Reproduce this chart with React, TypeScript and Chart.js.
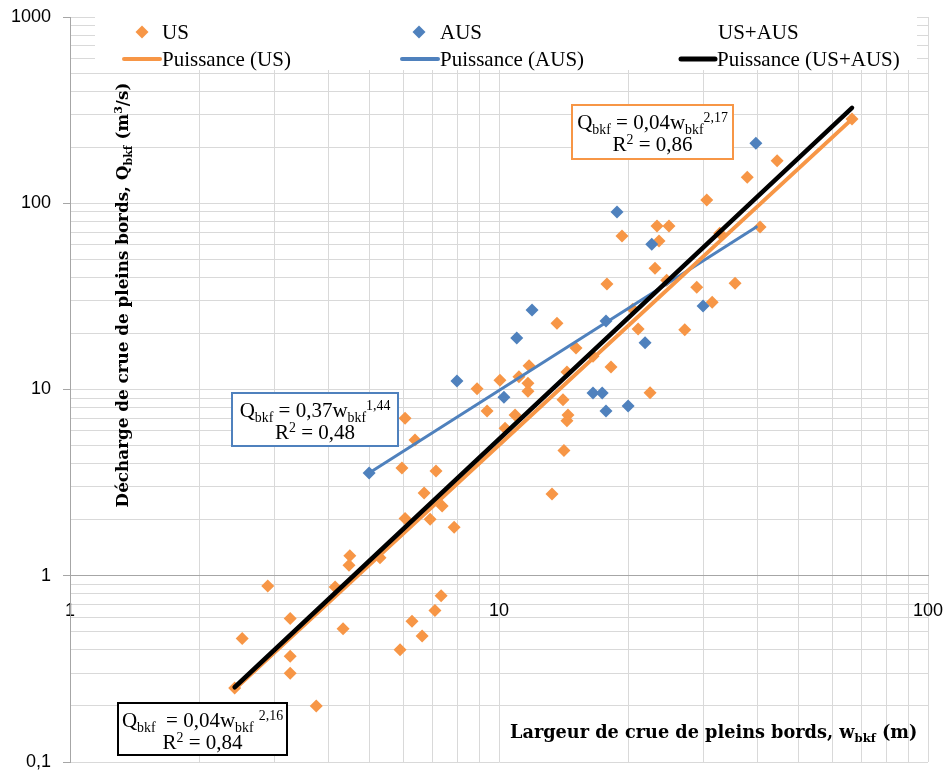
import { useEffect, useRef } from 'react';
import { Chart, registerables } from 'chart.js';

Chart.register(...registerables);

// ---- data ----
const usWidth = [2.42, 2.52, 2.89, 3.26, 3.26, 3.26, 3.75, 4.15, 4.33, 4.49, 4.47, 5.28, 5.88, 6.27, 6.62, 7.09, 7.33, 6.04, 6.37, 5.94, 7.13, 6.69, 7.37, 6.04, 6.91, 7.86, 8.89, 9.38, 10.05, 10.33, 10.9, 11.13, 11.68, 11.68, 11.75, 13.65, 15.12, 16.56, 14.4, 14.1, 14.48, 14.4, 14.17, 13.29, 18.24, 21.1, 20.5, 22.5, 30.5, 23.35, 24.9, 19.35, 23.6, 40.6, 23.1, 32.7, 17.85, 24.6, 28.9, 35.5, 31.4, 27.1, 37.9, 44.5, 66.5];
const usDischarge = [0.25, 0.46, 0.88, 0.59, 0.37, 0.3, 0.2, 0.87, 0.52, 1.28, 1.14, 1.25, 0.4, 0.57, 0.475, 0.65, 0.78, 7.0, 5.36, 3.79, 3.65, 2.78, 2.37, 2.03, 2.01, 1.82, 10.1, 7.67, 11.2, 6.2, 7.3, 11.7, 10.8, 9.8, 13.4, 22.7, 16.7, 15.1, 12.4, 8.8, 7.3, 6.8, 4.7, 2.75, 13.2, 21.1, 27, 9.6, 104, 75.5, 75.5, 66.7, 62.7, 74.6, 44.8, 69, 36.9, 38.6, 35.4, 37.2, 29.4, 20.9, 138, 169, 283];

const ausWidth = [4.98, 7.98, 10.27, 11.0, 11.94, 16.56, 17.4, 17.76, 20.0, 17.76, 21.9, 18.84, 22.7, 29.9, 39.7];
const ausDischarge = [3.56, 11.1, 9.1, 18.9, 26.7, 9.58, 9.58, 7.67, 8.15, 23.3, 17.8, 89.7, 60.3, 28.1, 210];

const usFitWidth = [2.42, 66.5];
const usFitDischarge = [0.246, 283];
const ausFitWidth = [4.98, 39.8];
const ausFitDischarge = [3.56, 74.6];
const allFitWidth = [2.42, 66.5];
const allFitDischarge = [0.252, 325];

const xTickLabels = ['1', '10', '100'];
const yTickLabels = ['0,1', '1', '10', '100', '1000'];

const legendMarkerLabels = ['US', 'AUS', 'US+AUS'];
const legendLineLabels = ['Puissance (US)', 'Puissance (AUS)', 'Puissance (US+AUS)'];

const xTitle = [{ t: 'Largeur de crue de pleins bords, w' }, { t: 'bkf', k: 'sub' }, { t: ' (m)' }];
const yTitle = [{ t: 'Décharge de crue de pleins bords, Q' }, { t: 'bkf', k: 'sub' }, { t: ' (m' }, { t: '3', k: 'sup' }, { t: '/s)' }];

const usEquation = [[{ t: 'Q' }, { t: 'bkf', k: 'sub' }, { t: ' = 0,04w' }, { t: 'bkf', k: 'sub' }, { t: '2,17', k: 'sup' }], [{ t: 'R' }, { t: '2', k: 'sup' }, { t: ' = 0,86' }]];
const ausEquation = [[{ t: 'Q' }, { t: 'bkf', k: 'sub' }, { t: ' = 0,37w' }, { t: 'bkf', k: 'sub' }, { t: '1,44', k: 'sup' }], [{ t: 'R' }, { t: '2', k: 'sup' }, { t: ' = 0,48' }]];
const allEquation = [[{ t: 'Q' }, { t: 'bkf', k: 'sub' }, { t: '  = 0,04w' }, { t: 'bkf', k: 'sub' }, { t: ' ' }, { t: '2,16', k: 'sup' }], [{ t: 'R' }, { t: '2', k: 'sup' }, { t: ' = 0,84' }]];

const ORANGE = '#F79646';
const BLUE = '#4F81BD';
const BLACK = '#000000';
const GRID = '#d9d9d9';
const AXIS = '#a6a6a6';

type Seg = { t: string; k?: string };

function gridValues(lo: number, hi: number) {
  const out: number[] = [];
  for (let e = lo; e < hi; e++) {
    for (let m = 1; m < 10; m++) out.push(m * Math.pow(10, e));
  }
  out.push(Math.pow(10, hi));
  return out;
}

function isPow10(v: number) {
  const l = Math.log10(v);
  return Math.abs(l - Math.round(l)) < 1e-9;
}

function drawRich(ctx: CanvasRenderingContext2D, segs: Seg[], x: number, y: number, size: number, family: string, weight: string, align: 'left' | 'center') {
  const small = size * 0.66;
  const fontFor = (s: Seg) => `${weight} ${s.k ? small : size}px ${family}`;
  let total = 0;
  const widths = segs.map((s) => {
    ctx.font = fontFor(s);
    const w = ctx.measureText(s.t).width;
    total += w;
    return w;
  });
  let cx = align === 'center' ? x - total / 2 : x;
  ctx.textBaseline = 'alphabetic';
  ctx.textAlign = 'left';
  segs.forEach((s, i) => {
    ctx.font = fontFor(s);
    const dy = s.k === 'sub' ? size * 0.22 : s.k === 'sup' ? -size * 0.33 : 0;
    ctx.fillText(s.t, cx, y + dy);
    cx += widths[i];
  });
  return total;
}

function diamond(ctx: CanvasRenderingContext2D, cx: number, cy: number, r: number, color: string) {
  ctx.beginPath();
  ctx.moveTo(cx - r, cy);
  ctx.lineTo(cx, cy - r);
  ctx.lineTo(cx + r, cy);
  ctx.lineTo(cx, cy + r);
  ctx.closePath();
  ctx.fillStyle = color;
  ctx.fill();
}

const SERIF = '"Liberation Serif", "DejaVu Serif", serif';
const SERIF_B = '"DejaVu Serif", "Liberation Serif", serif';

const overlayPlugin = {
  id: 'overlay',
  afterDraw(chart: any) {
    const ctx: CanvasRenderingContext2D = chart.ctx;
    ctx.save();
    // legend area
    ctx.fillStyle = '#ffffff';
    ctx.fillRect(95, 12, 822, 58);
    const markerX = [142, 419, -1];
    const textX = [162, 440, 718];
    const markerColors = [ORANGE, BLUE, BLACK];
    legendMarkerLabels.forEach((lab, i) => {
      if (markerX[i] > 0) diamond(ctx, markerX[i], 32, 6.5, markerColors[i]);
      ctx.fillStyle = '#000';
      ctx.font = `21px ${SERIF}`;
      ctx.textAlign = 'left';
      ctx.textBaseline = 'middle';
      ctx.fillText(lab, textX[i], 33);
    });
    const lineStart = [124, 402, 681];
    const lineText = [162, 440, 717];
    const lineWidths = [4, 4, 5];
    legendLineLabels.forEach((lab, i) => {
      ctx.beginPath();
      ctx.strokeStyle = markerColors[i];
      ctx.lineWidth = lineWidths[i];
      ctx.lineCap = 'round';
      ctx.moveTo(lineStart[i], 59);
      ctx.lineTo(lineText[i] - 2, 59);
      ctx.stroke();
      ctx.fillStyle = '#000';
      ctx.font = `21px ${SERIF}`;
      ctx.textAlign = 'left';
      ctx.textBaseline = 'middle';
      ctx.fillText(lab, lineText[i], 60);
    });

    // equation boxes
    const boxes = [
      { x: 572, y: 105, w: 161, h: 54, c: ORANGE, eq: usEquation },
      { x: 232, y: 393, w: 166, h: 53, c: BLUE, eq: ausEquation },
      { x: 118, y: 703, w: 169, h: 52, c: BLACK, eq: allEquation },
    ];
    boxes.forEach((b) => {
      ctx.fillStyle = '#fff';
      ctx.fillRect(b.x, b.y, b.w, b.h);
      ctx.strokeStyle = b.c;
      ctx.lineWidth = 2;
      ctx.strokeRect(b.x, b.y, b.w, b.h);
      ctx.fillStyle = '#000';
      drawRich(ctx, b.eq[0] as Seg[], b.x + b.w / 2, b.y + 24, 21, SERIF, 'normal', 'center');
      drawRich(ctx, b.eq[1] as Seg[], b.x + b.w / 2, b.y + 46, 21, SERIF, 'normal', 'center');
    });

    // axis titles
    ctx.fillStyle = '#000';
    drawRich(ctx, xTitle as Seg[], 510, 738, 17.7, SERIF_B, 'bold', 'left');
    ctx.save();
    ctx.translate(128, 295);
    ctx.rotate(-Math.PI / 2);
    drawRich(ctx, yTitle as Seg[], 0, 0, 16.8, SERIF_B, 'bold', 'center');
    ctx.restore();

    ctx.restore();
  },
};

export default function App() {
  const ref = useRef<HTMLCanvasElement>(null);
  useEffect(() => {
    const canvas = ref.current;
    if (!canvas) return;
    const toPts = (xs: number[], ys: number[]) => xs.map((x, i) => ({ x, y: ys[i] }));
    const xGrid = gridValues(0, 2);
    const yGrid = gridValues(-1, 3);
    const zeroPad = (s: any) => {
      s.paddingTop = 0;
      s.paddingBottom = 0;
      s.paddingLeft = 0;
      s.paddingRight = 0;
    };
    const chart = new Chart(canvas, {
      type: 'scatter',
      data: {
        datasets: [
          { label: 'Puissance (US+AUS)', data: toPts(allFitWidth, allFitDischarge), showLine: true, borderColor: BLACK, backgroundColor: BLACK, borderWidth: 4.5, pointRadius: 0, borderCapStyle: 'round', order: 0 },
          { label: 'Puissance (US)', data: toPts(usFitWidth, usFitDischarge), showLine: true, borderColor: ORANGE, backgroundColor: ORANGE, borderWidth: 4, pointRadius: 0, borderCapStyle: 'round', order: 1 },
          { label: 'Puissance (AUS)', data: toPts(ausFitWidth, ausFitDischarge), showLine: true, borderColor: BLUE, backgroundColor: BLUE, borderWidth: 3, pointRadius: 0, borderCapStyle: 'round', order: 2 },
          { label: 'AUS', data: toPts(ausWidth, ausDischarge), pointStyle: 'rectRot', pointRadius: 6.5, backgroundColor: BLUE, borderColor: BLUE, borderWidth: 0, order: 3 },
          { label: 'US', data: toPts(usWidth, usDischarge), pointStyle: 'rectRot', pointRadius: 6.5, backgroundColor: ORANGE, borderColor: ORANGE, borderWidth: 0, order: 4 },
        ] as any,
      },
      options: {
        animation: false,
        responsive: true,
        maintainAspectRatio: false,
        layout: { padding: { top: 17, right: 18, bottom: 12, left: 0 } },
        plugins: { legend: { display: false }, tooltip: { enabled: false } },
        scales: {
          x: {
            type: 'logarithmic',
            min: 1,
            max: 100,
            position: { y: 1 } as any,
            afterBuildTicks: (s: any) => { s.ticks = xGrid.map((v) => ({ value: v })); },
            afterFit: zeroPad,
            ticks: {
              autoSkip: false,
              maxRotation: 0,
              padding: 24,
              color: '#000',
              font: { family: '"Liberation Sans", Arial, sans-serif', size: 18 },
              callback: (v: any) => (isPow10(Number(v)) ? xTickLabels[Math.round(Math.log10(Number(v)))] : ''),
            },
            grid: { color: GRID, drawTicks: false, lineWidth: 1 },
            border: { color: AXIS, width: 1 },
          },
          y: {
            type: 'logarithmic',
            min: 0.1,
            max: 1000,
            position: 'left',
            afterFit: (s: any) => { s.width = 70; zeroPad(s); },
            afterBuildTicks: (s: any) => { s.ticks = yGrid.map((v) => ({ value: v })); },
            ticks: {
              autoSkip: false,
              padding: 12,
              color: '#000',
              font: { family: '"Liberation Sans", Arial, sans-serif', size: 18 },
              callback: (v: any) => (isPow10(Number(v)) ? yTickLabels[Math.round(Math.log10(Number(v))) + 1] : ''),
            },
            grid: {
              color: GRID,
              lineWidth: 1,
              tickLength: 7,
              tickColor: (c: any) => (c.tick && isPow10(c.tick.value) ? AXIS : 'rgba(0,0,0,0)'),
            },
            border: { color: AXIS, width: 1 },
          },
        },
      },
      plugins: [overlayPlugin],
    } as any);
    return () => chart.destroy();
  }, []);
  return (
    <div style={{ position: 'fixed', left: 0, top: 0, width: 946, height: 774, background: '#fff' }}>
      <canvas ref={ref} />
    </div>
  );
}
